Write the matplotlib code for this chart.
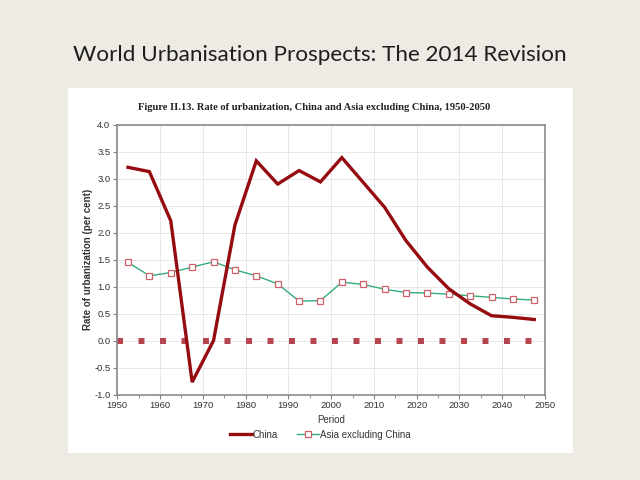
import matplotlib
matplotlib.use("Agg")
import matplotlib.pyplot as plt
from matplotlib.patches import Rectangle
from matplotlib.ticker import MultipleLocator

periods = [1952.5, 1957.5, 1962.5, 1967.5, 1972.5, 1977.5, 1982.5, 1987.5, 1992.5, 1997.5,
           2002.5, 2007.5, 2012.5, 2017.5, 2022.5, 2027.5, 2032.5, 2037.5, 2042.5, 2047.5]
china = [3.21, 3.13, 2.22, -0.77, 0.00, 2.14, 3.33, 2.90, 3.15, 2.94,
         3.39, 2.93, 2.47, 1.85, 1.36, 0.96, 0.68, 0.46, 0.43, 0.39]
asia_ex_china = [1.45, 1.20, 1.26, 1.36, 1.46, 1.31, 1.20, 1.05, 0.73, 0.74,
                 1.08, 1.04, 0.95, 0.89, 0.88, 0.86, 0.83, 0.80, 0.77, 0.75]
x_ticks = [1950, 1960, 1970, 1980, 1990, 2000, 2010, 2020, 2030, 2040, 2050]
y_ticks = [-1.0, -0.5, 0.0, 0.5, 1.0, 1.5, 2.0, 2.5, 3.0, 3.5, 4.0]

W, H = 640, 480
fig = plt.figure(figsize=(6.4, 4.8), dpi=100)
fig.patch.set_facecolor("#edebe3")

# white chart card
fig.patches.append(Rectangle((68 / W, 1 - 453 / H), (573 - 68) / W, (453 - 88) / H,
                             transform=fig.transFigure, facecolor="white",
                             edgecolor="none", zorder=-5))

fig.text(0.5 * (73 + 567) / W, 1 - 55 / H, "World Urbanisation Prospects: The 2014 Revision",
         ha="center", va="center", fontsize=16.2, family="Lato", color="#1e1e1e")

fig.text((137 + 491) / 2 / W, 1 - 107 / H,
         "Figure II.13. Rate of urbanization, China and Asia excluding China, 1950-2050",
         ha="center", va="center", fontsize=7.6, family="Liberation Serif",
         fontweight="bold", color="#222222")

ax = fig.add_axes([117.3 / W, 1 - 394.5 / H, (545 - 117.3) / W, (394.5 - 124.7) / H])
ax.set_zorder(2)
ax.set_facecolor("white")
ax.set_xlim(1950, 2050)
ax.set_ylim(-1.0, 4.0)
ax.set_xticks(x_ticks)
ax.set_yticks(y_ticks)
ax.set_xticklabels([str(t) for t in x_ticks], family="Liberation Sans", fontsize=6.8, color="#333333")
ax.set_yticklabels([f"{t:.1f}" for t in y_ticks], family="Liberation Sans", fontsize=6.8, color="#333333")
ax.xaxis.set_minor_locator(MultipleLocator(5))
ax.tick_params(axis="both", which="major", length=3, width=0.8, color="#808080", pad=2)
ax.tick_params(axis="x", which="minor", length=2, width=0.6, color="#808080")
ax.grid(True, which="major", color="#e4e4e4", lw=0.6)
ax.set_axisbelow(True)
for s in ax.spines.values():
    s.set_color("#8a8a8a")
    s.set_linewidth(1.2)

ax.axhline(0, color="#b5444f", lw=4.3, dashes=(1.0, 2.6), dash_capstyle="butt", zorder=2)

ax.plot(periods, china, color="#960b10", lw=2.4, zorder=4, label="China",
        solid_joinstyle="miter")
ax.plot(periods, asia_ex_china, color="#34ad78", lw=1.0, marker="s", markersize=5,
        markerfacecolor="white", markeredgecolor="#d0606a", markeredgewidth=0.9,
        zorder=3, label="Asia excluding China")

ax.set_xlabel("Period", family="Liberation Sans", fontsize=7, color="#333333", labelpad=3)
ax.set_ylabel("Rate of urbanization (per cent)", family="Liberation Sans", fontsize=7,
              fontweight="bold", color="#333333", labelpad=1)

leg = ax.legend(loc="upper center", bbox_to_anchor=(0.475, -0.098), ncol=2, frameon=False,
                prop={"family": "Liberation Sans", "size": 7}, handlelength=2.2,
                handletextpad=0.1, columnspacing=2.0)
for t in leg.get_texts():
    t.set_color("#333333")

fig.savefig("out.png", dpi=100, facecolor=fig.get_facecolor())
